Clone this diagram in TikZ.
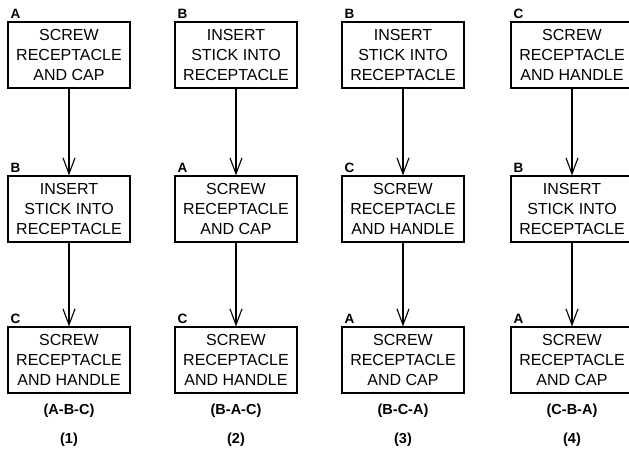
\documentclass[tikz,border=0pt]{standalone}
\usepackage{fontspec}
\setmainfont{Liberation Sans}
\usetikzlibrary{arrows.meta}
\tikzset{
  schritt/.style={draw,line width=1.1pt,minimum width=122pt,minimum height=66pt,inner sep=0pt,align=center,font=\fontsize{16}{20}\selectfont},
  marke/.style={anchor=south west,inner sep=1pt,xshift=2pt,yshift=2pt,font=\fontsize{13.5}{13.5}\selectfont\bfseries},
  folge/.style={-{Straight Barb[length=16pt,width=12pt,line width=1.1pt]},line width=1.3pt},
  titel/.style={font=\fontsize{14.5}{14.5}\selectfont\bfseries},
}

\begin{document}
\begin{tikzpicture}[x=1pt,y=-1pt]
  \clip (0,0) rectangle (629,462);
  % (1) A-B-C
  \node[schritt] (s1a) at (69,55) {SCREW\\RECEPTACLE\\AND CAP};
  \node[schritt] (s1b) at (69,209) {INSERT\\STICK INTO\\RECEPTACLE};
  \node[schritt] (s1c) at (69,360) {SCREW\\RECEPTACLE\\AND HANDLE};
  \node[marke] (m1a) at (s1a.north west) {A};
  \node[marke] (m1b) at (s1b.north west) {B};
  \node[marke] (m1c) at (s1c.north west) {C};
  \draw[folge] (s1a) -- (s1b);
  \draw[folge] (s1b) -- (s1c);
  \node[titel] (f1) at (69,411) {(A-B-C)};
  \node[titel] (n1) at (69,440) {(1)};
  % (2) B-A-C
  \node[schritt] (s2a) at (236,55) {INSERT\\STICK INTO\\RECEPTACLE};
  \node[schritt] (s2b) at (236,209) {SCREW\\RECEPTACLE\\AND CAP};
  \node[schritt] (s2c) at (236,360) {SCREW\\RECEPTACLE\\AND HANDLE};
  \node[marke] (m2a) at (s2a.north west) {B};
  \node[marke] (m2b) at (s2b.north west) {A};
  \node[marke] (m2c) at (s2c.north west) {C};
  \draw[folge] (s2a) -- (s2b);
  \draw[folge] (s2b) -- (s2c);
  \node[titel] (f2) at (236,411) {(B-A-C)};
  \node[titel] (n2) at (236,440) {(2)};
  % (3) B-C-A
  \node[schritt] (s3a) at (403,55) {INSERT\\STICK INTO\\RECEPTACLE};
  \node[schritt] (s3b) at (403,209) {SCREW\\RECEPTACLE\\AND HANDLE};
  \node[schritt] (s3c) at (403,360) {SCREW\\RECEPTACLE\\AND CAP};
  \node[marke] (m3a) at (s3a.north west) {B};
  \node[marke] (m3b) at (s3b.north west) {C};
  \node[marke] (m3c) at (s3c.north west) {A};
  \draw[folge] (s3a) -- (s3b);
  \draw[folge] (s3b) -- (s3c);
  \node[titel] (f3) at (403,411) {(B-C-A)};
  \node[titel] (n3) at (403,440) {(3)};
  % (4) C-B-A
  \node[schritt] (s4a) at (572,55) {SCREW\\RECEPTACLE\\AND HANDLE};
  \node[schritt] (s4b) at (572,209) {INSERT\\STICK INTO\\RECEPTACLE};
  \node[schritt] (s4c) at (572,360) {SCREW\\RECEPTACLE\\AND CAP};
  \node[marke] (m4a) at (s4a.north west) {C};
  \node[marke] (m4b) at (s4b.north west) {B};
  \node[marke] (m4c) at (s4c.north west) {A};
  \draw[folge] (s4a) -- (s4b);
  \draw[folge] (s4b) -- (s4c);
  \node[titel] (f4) at (572,411) {(C-B-A)};
  \node[titel] (n4) at (572,440) {(4)};
\end{tikzpicture}
\end{document}
